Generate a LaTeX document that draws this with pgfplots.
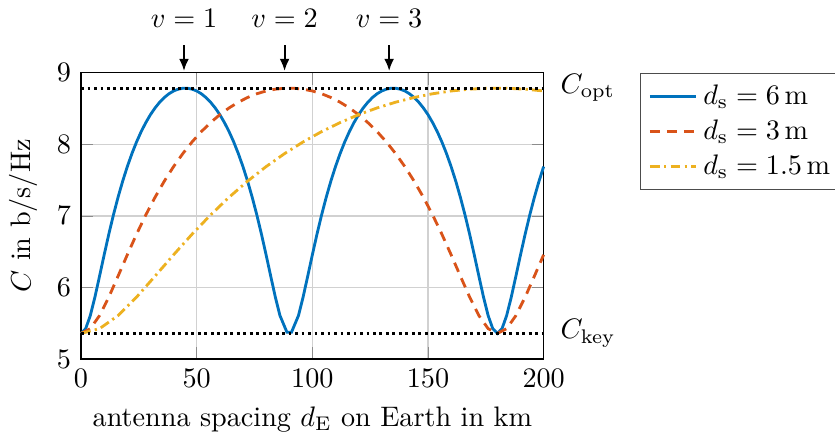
\documentclass[border={0pt 0pt -3.5pt 0pt}]{standalone}
\usepackage{pgfplots}
\pgfplotsset{compat=1.18}
\usetikzlibrary{arrows.meta}
\definecolor{cblue}{rgb}{0,0.447,0.741}
\definecolor{cred}{rgb}{0.850,0.325,0.098}
\definecolor{cyellow}{rgb}{0.929,0.694,0.125}
\tikzset{varrow/.style={-{Latex[length=4.3pt,width=3.5pt]}, line width=0.75pt}}

\begin{document}
\begin{tikzpicture}
\begin{axis}[
  scale only axis,
  width=164pt, height=101.5pt,
  xmin=0, xmax=200, ymin=5, ymax=9,
  xtick={0,50,100,150,200},
  ytick={5,6,7,8,9},
  grid=major,
  major grid style={black!18, line width=0.5pt},
  tick style={black!45},
  axis line style={black},
  xlabel={antenna spacing $d_\mathrm{E}$ on Earth in km},
  ylabel={$C$ in b/s/Hz},
  clip=false,
  legend image code/.code={%
    \draw[mark repeat=2,mark phase=2,#1] plot coordinates {(0pt,0pt) (8.2pt,0pt) (16.4pt,0pt)};},
  legend style={at={(1.2073,1)}, anchor=north west, draw=black!70,
    legend cell align=left, font=\normalsize},
]
% d_s = 6 m
\addplot[cblue, line width=1pt] coordinates {
(0,5.358) (2,5.424) (4,5.607) (6,5.865) (8,6.158) (10,6.456) (12,6.744)
(14,7.013) (16,7.260) (18,7.485) (20,7.688) (22,7.870) (24,8.033) (26,8.177)
(28,8.303) (30,8.414) (32,8.508) (34,8.588) (36,8.654) (38,8.706) (40,8.745)
(42,8.770) (44,8.783) (46,8.783) (48,8.770) (50,8.745) (52,8.706) (54,8.654)
(56,8.588) (58,8.508) (60,8.414) (62,8.303) (64,8.177) (66,8.033) (68,7.870)
(70,7.688) (72,7.485) (74,7.260) (76,7.013) (78,6.744) (80,6.456) (82,6.158)
(84,5.865) (86,5.607) (89,5.375) (91,5.375) (94,5.607) (96,5.865) (98,6.158)
(100,6.456) (102,6.744) (104,7.013) (106,7.260) (108,7.485) (110,7.688)
(112,7.870) (114,8.033) (116,8.177) (118,8.303) (120,8.414) (122,8.508)
(124,8.588) (126,8.654) (128,8.706) (130,8.745) (132,8.770) (134,8.783)
(136,8.783) (138,8.770) (140,8.745) (142,8.706) (144,8.654) (146,8.588)
(148,8.508) (150,8.414) (152,8.303) (154,8.177) (156,8.033) (158,7.870)
(160,7.688) (162,7.485) (164,7.260) (166,7.013) (168,6.744) (170,6.456)
(172,6.158) (174,5.865) (176,5.607) (178,5.424) (180,5.358) (182,5.424)
(184,5.607) (186,5.865) (188,6.158) (190,6.456) (192,6.744) (194,7.013)
(196,7.260) (198,7.485) (200,7.688)
};
\addlegendentry{$d_\mathrm{s} = 6\,\mathrm{m}$}
% d_s = 3 m
\addplot[cred, line width=1pt, dash pattern=on 3.5pt off 2.5pt] coordinates {
(0,5.358) (4,5.424) (8,5.607) (12,5.865) (16,6.158) (20,6.456) (24,6.744)
(28,7.013) (32,7.260) (36,7.485) (40,7.688) (44,7.870) (48,8.033) (52,8.177)
(56,8.303) (60,8.414) (64,8.508) (68,8.588) (72,8.654) (76,8.706) (80,8.745)
(84,8.770) (88,8.783) (92,8.783) (96,8.770) (100,8.745) (104,8.706) (108,8.654)
(112,8.588) (116,8.508) (120,8.414) (124,8.303) (128,8.177) (132,8.033)
(136,7.870) (140,7.688) (144,7.485) (148,7.260) (152,7.013) (156,6.744)
(160,6.456) (164,6.158) (168,5.865) (172,5.607) (176,5.424) (180,5.358)
(184,5.424) (188,5.607) (192,5.865) (196,6.158) (200,6.456)
};
\addlegendentry{$d_\mathrm{s} = 3\,\mathrm{m}$}
% d_s = 1.5 m
\addplot[cyellow, line width=1pt, dash pattern=on 3.5pt off 1.5pt on 0.8pt off 1.5pt] coordinates {
(0,5.358) (8,5.424) (16,5.607) (24,5.865) (32,6.158) (40,6.456) (48,6.744)
(56,7.013) (64,7.260) (72,7.485) (80,7.688) (88,7.870) (96,8.033) (104,8.177)
(112,8.303) (120,8.414) (128,8.508) (136,8.588) (144,8.654) (152,8.706)
(160,8.745) (168,8.770) (176,8.783) (184,8.783) (192,8.770) (200,8.745)
};
\addlegendentry{$d_\mathrm{s} = 1.5\,\mathrm{m}$}
% reference levels
\addplot[black, line width=1pt, dash pattern=on 1pt off 1.3pt, forget plot]
  coordinates {(0,8.785) (200,8.785)};
\addplot[black, line width=1pt, dash pattern=on 1pt off 1.3pt, forget plot]
  coordinates {(0,5.358) (200,5.358)};
\node[anchor=west] at ([xshift=2.5pt]axis cs:200,8.785) {$C_\mathrm{opt}$};
\node[anchor=west] at ([xshift=2.5pt]axis cs:200,5.358) {$C_\mathrm{key}$};
% optimal spacings
\draw[varrow] ([yshift=9.8pt]axis cs:44.5,9) -- ([yshift=0.6pt]axis cs:44.5,9);
\draw[varrow] ([yshift=9.8pt]axis cs:88,9) -- ([yshift=0.6pt]axis cs:88,9);
\draw[varrow] ([yshift=9.8pt]axis cs:133.2,9) -- ([yshift=0.6pt]axis cs:133.2,9);
\node[anchor=base] at ([yshift=16pt]axis cs:44.5,9) {$v = 1$};
\node[anchor=base] at ([yshift=16pt]axis cs:88,9) {$v = 2$};
\node[anchor=base] at ([yshift=16pt]axis cs:133.2,9) {$v = 3$};
\end{axis}
\end{tikzpicture}
\end{document}
